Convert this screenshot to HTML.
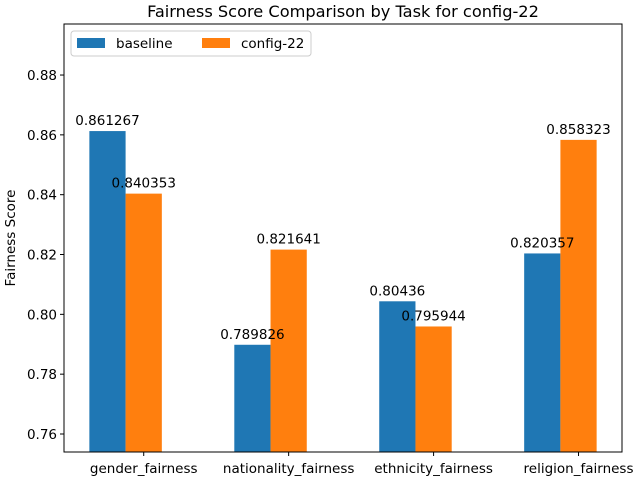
<!DOCTYPE html>
<html><head><meta charset="utf-8"><style>
body{margin:0;background:#fff}
svg{font-family:"DejaVu Sans","Liberation Sans",sans-serif}
</style></head><body>
<svg id="chart" width="640" height="480">
<rect width="640" height="480" fill="#fff"/>
<text x="343" y="17" text-anchor="middle" font-size="16.2">Fairness Score Comparison by Task for config-22</text>
<text transform="translate(15,238) rotate(-90)" text-anchor="middle" font-size="13.5">Fairness Score</text>
<g id="marks"></g>
<g id="labels"></g>
<rect x="64" y="24" width="558" height="428" fill="none" stroke="#000" stroke-width="1"/>
<g>
<rect x="71" y="31" width="240" height="25" rx="3" fill="#fff" stroke="#ccc"/>
<rect x="77" y="38" width="28" height="10" fill="#1f77b4"/>
<text x="116" y="48" font-size="13.5">baseline</text>
<rect x="202" y="38" width="28" height="10" fill="#ff7f0e"/>
<text x="241" y="48" font-size="13.5">config-22</text>
</g>
</svg>
<script>
const categories=["gender_fairness","nationality_fairness","ethnicity_fairness","religion_fairness"];
const baseline=[0.861267,0.789826,0.80436,0.820357];
const config22=[0.840353,0.821641,0.795944,0.858323];
const yTicks=[0.76,0.78,0.80,0.82,0.84,0.86,0.88];
const NS="http://www.w3.org/2000/svg";
const L=64,R=622,T=24,B=452;
const yMin=0.75398,yMax=0.89706;
function y(v){return B-(v-yMin)/(yMax-yMin)*(B-T);}
function x(i){return L+(i+0.425)/3.85*(R-L);}
const bw=0.25/3.85*(R-L);
const g=document.getElementById('marks');
const gl=document.getElementById('labels');
function mk(tag,attrs,txt,parent){const e=document.createElementNS(NS,tag);for(const k in attrs)e.setAttribute(k,attrs[k]);if(txt!==undefined)e.textContent=txt;(parent||g).appendChild(e);return e;}
yTicks.forEach(t=>{
 const yy=y(t);
 const l=mk('line',{x1:L-4,x2:L,y1:yy,y2:yy,stroke:'#000'});
 
 
 const tx=mk('text',{x:L-7,y:yy+5,'text-anchor':'end','font-size':'13.5'},t.toFixed(2));
 
 
});
categories.forEach((c,i)=>{
 const cx=x(i);
 const tcx=cx+bw/2;
 const l=mk('line',{x1:tcx,x2:tcx,y1:B,y2:B+4,stroke:'#000'});
 
 
 const tx=mk('text',{x:tcx,y:B+21,'text-anchor':'middle','font-size':'13.5'},c);
 
 
 [[baseline,'#1f77b4',-1,'baseline'],[config22,'#ff7f0e',0,'config-22']].forEach(([arr,col,off,nm])=>{
  const v=arr[i],bx=cx+off*bw,by=y(v);
  const r=mk('rect',{x:bx,y:by,width:bw,height:B-by,fill:col});
  
  
  const lb=mk('text',{x:bx+bw/2,y:by-6,'text-anchor':'middle','font-size':'13.5'},String(v),gl);
  
  
 });
});
</script>
</body></html>
